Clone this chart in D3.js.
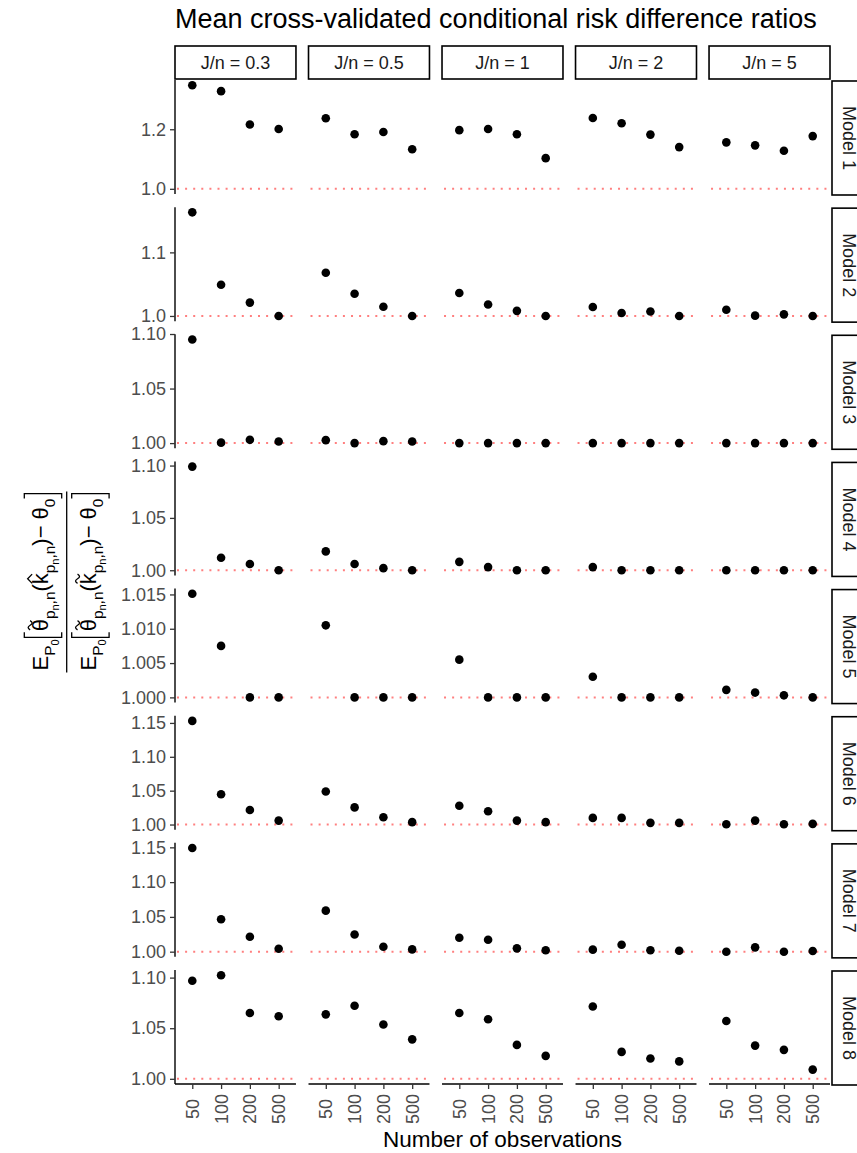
<!DOCTYPE html>
<html>
<head>
<meta charset="utf-8">
<script src="https://cdn.jsdelivr.net/npm/d3@7"></script>
<style>
  body { margin: 0; background: #fff; }
  svg { display: block; }
  text { font-family: "Liberation Sans", Arial, sans-serif; }
</style>
</head>
<body>
<svg id="chart" width="857" height="1153"></svg>
<script>
// facets
const modelLabels = ["Model 1", "Model 2", "Model 3", "Model 4", "Model 5", "Model 6", "Model 7", "Model 8"];
const ratioLabels = ["J/n = 0.3", "J/n = 0.5", "J/n = 1", "J/n = 2", "J/n = 5"];
const sampleSizes = ["50", "100", "200", "500"];

// one inner array per J/n panel, values ordered by sample size
const model1 = [[1.348, 1.328, 1.216, 1.201], [1.237, 1.183, 1.191, 1.133], [1.197, 1.201, 1.183, 1.103], [1.238, 1.220, 1.182, 1.140], [1.156, 1.146, 1.128, 1.177]];
const model2 = [[1.163, 1.049, 1.021, 1.000], [1.068, 1.035, 1.0145, 1.000], [1.036, 1.018, 1.008, 1.000], [1.014, 1.0047, 1.007, 1.000], [1.0098, 1.0005, 1.0025, 1.000]];
const model3 = [[1.095, 1.0004, 1.003, 1.0015], [1.0027, 1.0000, 1.0018, 1.0015], [1.000, 1.000, 1.000, 1.000], [1.000, 1.000, 1.000, 1.000], [1.000, 1.000, 1.000, 1.000]];
const model4 = [[1.099, 1.012, 1.006, 1.000], [1.018, 1.006, 1.002, 1.000], [1.008, 1.003, 1.000, 1.000], [1.003, 1.000, 1.000, 1.000], [1.000, 1.000, 1.000, 1.000]];
const model5 = [[1.0151, 1.0075, 1.000, 1.000], [1.0105, 1.000, 1.000, 1.000], [1.0055, 1.000, 1.000, 1.000], [1.003, 1.000, 1.000, 1.000], [1.0011, 1.0007, 1.0003, 1.000]];
const model6 = [[1.153, 1.0447, 1.0214, 1.0058], [1.0487, 1.0253, 1.0108, 1.0035], [1.0277, 1.0195, 1.0058, 1.0035], [1.0098, 1.0098, 1.0025, 1.0025], [1.0005, 1.0058, 1.0005, 1.001]];
const model7 = [[1.149, 1.0467, 1.0214, 1.0043], [1.059, 1.0248, 1.0071, 1.0033], [1.020, 1.0171, 1.0048, 1.002], [1.0029, 1.010, 1.002, 1.0014], [1.000, 1.0062, 1.000, 1.001]];
const model8 = [[1.0969, 1.1024, 1.065, 1.0618], [1.0637, 1.0722, 1.0537, 1.039], [1.065, 1.0588, 1.0335, 1.0227], [1.0715, 1.0266, 1.0201, 1.0172], [1.0572, 1.0328, 1.0286, 1.0091]];
const modelValues = [model1, model2, model3, model4, model5, model6, model7, model8];

// free y scales: tick labels per model
const yTickLabels = [
  ["1.0", "1.2"],
  ["1.0", "1.1"],
  ["1.00", "1.05", "1.10"],
  ["1.00", "1.05", "1.10"],
  ["1.000", "1.005", "1.010", "1.015"],
  ["1.00", "1.05", "1.10", "1.15"],
  ["1.00", "1.05", "1.10", "1.15"],
  ["1.00", "1.05", "1.10"]
];
const referenceLine = 1;

const svg = d3.select("#chart");
const tickGrey = "#4d4d4d";
const fontStack = '"Liberation Sans", Arial, sans-serif';

// panel grid
const col = d3.scaleBand().domain(ratioLabels).range([175, 830]).paddingInner(0.094);
const row = d3.scaleBand().domain(modelLabels).range([80, 1084]).paddingInner(0.1034);

// title
svg.append("text")
  .attr("x", 175).attr("y", 28)
  .attr("font-size", 27)
  .attr("fill", "#000")
  .text("Mean cross-validated conditional risk difference ratios");

// top strips
ratioLabels.forEach((lab) => {
  const x0 = col(lab);
  svg.append("rect")
    .attr("x", x0).attr("y", 46)
    .attr("width", col.bandwidth()).attr("height", 33)
    .attr("fill", "#fff").attr("stroke", "#000").attr("stroke-width", 1.6);
  svg.append("text")
    .attr("x", x0 + col.bandwidth() / 2).attr("y", 62.5)
    .attr("text-anchor", "middle").attr("dominant-baseline", "central")
    .attr("font-size", 18).attr("fill", "#1a1a1a")
    .text(lab);
});

modelLabels.forEach((model, mi) => {
  const top = row(model);
  const bottom = top + row.bandwidth();
  const vals = modelValues[mi];
  const flat = vals.flat();
  const lo = Math.min(referenceLine, d3.min(flat));
  const hi = Math.max(referenceLine, d3.max(flat));
  const pad = (hi - lo) * 0.05;
  const y = d3.scaleLinear().domain([lo - pad, hi + pad]).range([bottom, top]);

  // right strip
  svg.append("rect")
    .attr("x", 832).attr("y", top + 1)
    .attr("width", 33).attr("height", row.bandwidth())
    .attr("fill", "#fff").attr("stroke", "#000").attr("stroke-width", 1.6);
  svg.append("text")
    .attr("transform", `translate(848.5,${top + 1 + row.bandwidth() / 2}) rotate(90)`)
    .attr("text-anchor", "middle").attr("dominant-baseline", "central")
    .attr("font-size", 18).attr("fill", "#1a1a1a")
    .text(model);

  // y axis on the first column only
  const ticks = yTickLabels[mi].map(Number);
  const yAxis = svg.append("g")
    .attr("transform", `translate(${col(ratioLabels[0])},0)`)
    .call(d3.axisLeft(y).tickValues(ticks).tickFormat((d, i) => yTickLabels[mi][i]).tickSize(5).tickPadding(4));
  yAxis.select(".domain").attr("d", `M0,${top}V${bottom}`).attr("stroke", "#000").attr("stroke-width", 1.4);
  yAxis.selectAll(".tick line").attr("stroke", "#333").attr("stroke-width", 1.3);
  yAxis.selectAll(".tick text")
    .attr("font-size", 18).attr("fill", tickGrey)
    .attr("font-family", fontStack);

  ratioLabels.forEach((lab, ri) => {
    const x0 = col(lab);
    const x = d3.scalePoint().domain(sampleSizes).range([x0, x0 + col.bandwidth()]).padding(0.6);

    // reference line
    svg.append("line")
      .attr("x1", x0 + 2).attr("x2", x0 + col.bandwidth())
      .attr("y1", y(referenceLine)).attr("y2", y(referenceLine))
      .attr("stroke", "#ff0000").attr("stroke-opacity", 0.5)
      .attr("stroke-width", 2).attr("stroke-dasharray", "2,6.1");

    svg.append("g").selectAll("circle")
      .data(vals[ri])
      .join("circle")
      .attr("cx", (d, i) => x(sampleSizes[i]))
      .attr("cy", (d) => y(d))
      .attr("r", 4.3)
      .attr("fill", "#000");

    // x axis on the last row only
    if (mi === modelLabels.length - 1) {
      const xAxis = svg.append("g")
        .attr("transform", `translate(0,${bottom})`)
        .call(d3.axisBottom(x).tickSize(5).tickPadding(4));
      xAxis.select(".domain").attr("d", `M${x0},0H${x0 + col.bandwidth()}`).attr("stroke", "#000").attr("stroke-width", 1.4);
      xAxis.selectAll(".tick line").attr("stroke", "#333").attr("stroke-width", 1.3);
      xAxis.selectAll(".tick text")
        .attr("font-size", 18).attr("fill", tickGrey)
        .attr("font-family", fontStack)
        .attr("text-anchor", "middle")
        .attr("dy", null)
        .attr("y", null)
        .attr("transform", "translate(0,25) rotate(-90)")
        .attr("dominant-baseline", "central");
    }
  });
});

// x axis title
svg.append("text")
  .attr("x", (175 + 830) / 2).attr("y", 1147)
  .attr("text-anchor", "middle")
  .attr("font-size", 22.5).attr("fill", "#000")
  .text("Number of observations");

// y axis title: a fraction of two expectations
const F = 22;
function drawTerm(g, accent) {
  let x = 0;
  const put = (s, k, dy) => {
    const t = g.append("text").attr("x", x).attr("y", dy).attr("font-size", F * k).attr("fill", "#000").text(s);
    const w = t.node().getComputedTextLength();
    x += w;
    return { x0: x - w, w: w };
  };
  const markAbove = (p, kind) => {
    const cx = p.x0 + p.w / 2, w = F * 0.42, yy = -F * 0.88;
    const d = kind === "hat"
      ? `M${cx - w / 2},${yy + 3}L${cx},${yy - 1.5}L${cx + w / 2},${yy + 3}`
      : `M${cx - w / 2},${yy + 1}q${w / 4},-4 ${w / 2},0t${w / 2},0`;
    g.append("path").attr("d", d).attr("fill", "none").attr("stroke", "#000").attr("stroke-width", 1.3);
  };
  const subscriptPn = () => {
    put("p", 0.7, F * 0.3);
    put("n", 0.5, F * 0.46);
    put(",n", 0.7, F * 0.3);
  };
  put("E", 1, 0);
  put("P", 0.7, F * 0.3);
  put("0", 0.5, F * 0.46);
  x += 2;
  const bx0 = x;
  x += 6;
  const th = put("θ", 1, 0);
  markAbove(th, "tilde");
  subscriptPn();
  put("(", 1, 0);
  const k = put("k", 1, 0);
  markAbove(k, accent);
  subscriptPn();
  put(")", 1, 0);
  put(" − θ", 1, 0);
  put("0", 0.7, F * 0.3);
  x += 5;
  const bx1 = x;
  const bt = -F * 1.1, bb = F * 0.6;
  g.append("path").attr("d", `M${bx0 + 5},${bt}H${bx0}V${bb}H${bx0 + 5}`)
    .attr("fill", "none").attr("stroke", "#000").attr("stroke-width", 1.3);
  g.append("path").attr("d", `M${bx1 - 5},${bt}H${bx1}V${bb}H${bx1 - 5}`)
    .attr("fill", "none").attr("stroke", "#000").attr("stroke-width", 1.3);
  return x;
}

const frac = svg.append("g").attr("transform", "translate(66.7,582) rotate(-90)");
const num = frac.append("g");
const wNum = drawTerm(num, "hat");
const den = frac.append("g");
const wDen = drawTerm(den, "tilde");
num.attr("transform", `translate(${-wNum / 2},${-(5 + F * 0.6)})`);
den.attr("transform", `translate(${-wDen / 2},${5 + F * 1.1})`);
const barLen = Math.max(wNum, wDen) + 4;
frac.append("line")
  .attr("x1", -barLen / 2).attr("x2", barLen / 2)
  .attr("y1", 0).attr("y2", 0)
  .attr("stroke", "#000").attr("stroke-width", 1.3);
</script>
</body>
</html>
